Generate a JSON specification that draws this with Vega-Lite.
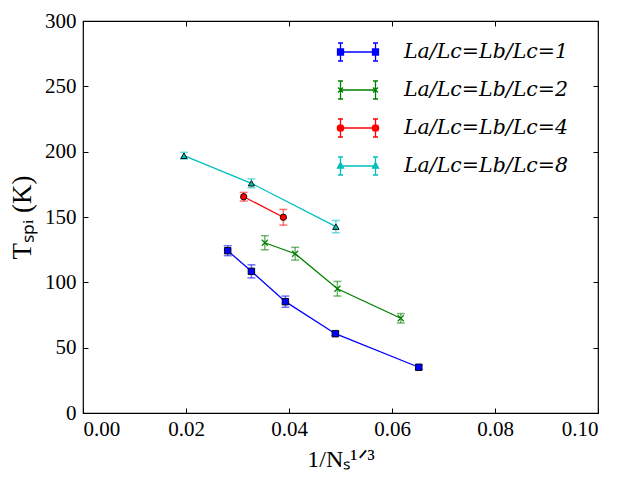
{
  "$schema": "https://vega.github.io/schema/vega-lite/v6.json",
  "width": 515,
  "height": 392,
  "autosize": {"type": "none"},
  "padding": {"left": 83, "top": 21, "right": 25, "bottom": 80},
  "background": "white",
  "config": {
    "view": {"stroke": "black", "strokeWidth": 1.2},
    "axis": {
      "grid": false,
      "domain": false,
      "tickColor": "black",
      "tickSize": -5,
      "tickWidth": 1,
      "labelFont": "Liberation Serif",
      "labelFontSize": 21,
      "labelColor": "black",
      "titleFont": "Liberation Serif",
      "titleFontSize": 24,
      "titleFontWeight": "normal",
      "titleColor": "black"
    }
  },
  "data": {
    "values": [
      {"series": "1", "x": 0.0281, "y": 124.2, "lo": 120.4, "hi": 128.0},
      {"series": "1", "x": 0.0327, "y": 108.4, "lo": 103.4, "hi": 113.4},
      {"series": "1", "x": 0.0393, "y": 85.2, "lo": 80.9, "hi": 89.5},
      {"series": "1", "x": 0.0490, "y": 60.7, "lo": 59.2, "hi": 62.2},
      {"series": "1", "x": 0.0652, "y": 35.0, "lo": 33.5, "hi": 36.5},
      {"series": "2", "x": 0.0353, "y": 130.3, "lo": 124.9, "hi": 135.7},
      {"series": "2", "x": 0.0412, "y": 121.9, "lo": 117.0, "hi": 126.8},
      {"series": "2", "x": 0.0494, "y": 95.1, "lo": 89.5, "hi": 100.7},
      {"series": "2", "x": 0.0617, "y": 72.5, "lo": 68.9, "hi": 76.1},
      {"series": "4", "x": 0.0312, "y": 165.5, "lo": 162.2, "hi": 168.8},
      {"series": "4", "x": 0.0389, "y": 149.8, "lo": 143.8, "hi": 155.8},
      {"series": "8", "x": 0.0196, "y": 196.9, "lo": 194.3, "hi": 199.5},
      {"series": "8", "x": 0.0327, "y": 175.8, "lo": 172.4, "hi": 179.2},
      {"series": "8", "x": 0.0491, "y": 142.6, "lo": 137.9, "hi": 147.3}
    ]
  },
  "resolve": {"axis": {"x": "independent", "y": "independent"}},
  "layer": [
    {
      "mark": {"type": "line", "strokeWidth": 1.3},
      "encoding": {
        "x": {"field": "x", "type": "quantitative", "scale": {"domain": [0, 0.1], "nice": false},
          "axis": {"orient": "bottom", "values": [0, 0.02, 0.04, 0.06, 0.08, 0.1], "format": ".2f", "labelPadding": 10, "title": "1/Nₛ¹ᐟ³", "titlePadding": 8}},
        "y": {"field": "y", "type": "quantitative", "scale": {"domain": [0, 300], "nice": false},
          "axis": {"orient": "left", "values": [0, 50, 100, 150, 200, 250, 300], "labelPadding": 12, "title": "Tₛₚᵢ (K)", "titlePadding": 8, "titleFontSize": 27}},
        "color": {"field": "series", "type": "nominal",
          "scale": {"domain": ["1", "2", "4", "8"], "range": ["#0000ff", "#008000", "#ff0000", "#00bfbf"]},
          "legend": {
            "orient": "none", "legendX": 264, "legendY": 20, "padding": 0,
            "title": null, "symbolSize": 400, "rowPadding": 14, "labelOffset": 35, "labelLimit": 300,
            "labelFont": "DejaVu Serif", "labelFontStyle": "italic", "labelFontSize": 20.5, "labelColor": "black",
            "labelExpr": "'La/Lc=Lb/Lc=' + datum.label",
            "encode": {
              "symbols": {
                "update": {
                  "shape": {"signal": "datum.value == '1' ? 'M-2,-0.9H-1.5M-1.75,-0.9V0.9M-2,0.9H-1.5M1.5,-0.9H2M1.75,-0.9V0.9M1.5,0.9H2M-1.75,0H1.75M-2.05,-0.3H-1.45V0.3H-2.05ZM1.45,-0.3H2.05V0.3H1.45Z' : datum.value == '2' ? 'M-2,-0.9H-1.5M-1.75,-0.9V0.9M-2,0.9H-1.5M1.5,-0.9H2M1.75,-0.9V0.9M1.5,0.9H2M-1.75,0H1.75M-2,-0.25L-1.5,0.25M-2,0.25L-1.5,-0.25M1.5,-0.25L2,0.25M1.5,0.25L2,-0.25' : datum.value == '4' ? 'M-2,-0.9H-1.5M-1.75,-0.9V0.9M-2,0.9H-1.5M1.5,-0.9H2M1.75,-0.9V0.9M1.5,0.9H2M-1.75,0H1.75M-2.07,0A0.32,0.32 0 1,0 -1.43,0A0.32,0.32 0 1,0 -2.07,0ZM1.43,0A0.32,0.32 0 1,0 2.07,0A0.32,0.32 0 1,0 1.43,0Z' : 'M-2,-0.9H-1.5M-1.75,-0.9V0.9M-2,0.9H-1.5M1.5,-0.9H2M1.75,-0.9V0.9M1.5,0.9H2M-1.75,0H1.75M-1.75,-0.35L-1.45,0.22L-2.05,0.22ZM1.75,-0.35L2.05,0.22L1.45,0.22Z'"},
                  "fill": {"scale": "color", "field": "value"},
                  "stroke": {"scale": "color", "field": "value"},
                  "strokeWidth": {"value": 1.3},
                  "opacity": {"value": 1},
                  "size": {"value": 400}
                }
              }
            }
          }}
      }
    },
    {
      "mark": {"type": "rule", "strokeWidth": 1.5, "opacity": 0.55},
      "encoding": {
        "x": {"field": "x", "type": "quantitative",
          "axis": {"orient": "top", "values": [0, 0.02, 0.04, 0.06, 0.08, 0.1], "labels": false, "title": null}},
        "y": {"field": "lo", "type": "quantitative",
          "axis": {"orient": "right", "values": [0, 50, 100, 150, 200, 250, 300], "labels": false, "title": null}},
        "y2": {"field": "hi"},
        "color": {"field": "series", "type": "nominal"}
      }
    },
    {
      "mark": {"type": "tick", "orient": "horizontal", "size": 8, "thickness": 1.5, "opacity": 0.55},
      "encoding": {
        "x": {"field": "x", "type": "quantitative", "axis": null},
        "y": {"field": "lo", "type": "quantitative", "axis": null},
        "color": {"field": "series", "type": "nominal"}
      }
    },
    {
      "mark": {"type": "tick", "orient": "horizontal", "size": 8, "thickness": 1.5, "opacity": 0.55},
      "encoding": {
        "x": {"field": "x", "type": "quantitative", "axis": null},
        "y": {"field": "hi", "type": "quantitative", "axis": null},
        "color": {"field": "series", "type": "nominal"}
      }
    },
    {
      "transform": [{"filter": "datum.series == '1'"}],
      "mark": {"type": "point", "shape": "square", "filled": true, "size": 42, "opacity": 1, "stroke": "black", "strokeWidth": 0.9},
      "encoding": {
        "x": {"field": "x", "type": "quantitative", "axis": null},
        "y": {"field": "y", "type": "quantitative", "axis": null},
        "color": {"field": "series", "type": "nominal"}
      }
    },
    {
      "transform": [{"filter": "datum.series == '2'"}],
      "mark": {"type": "point", "shape": "M-1,-1L1,1M-1,1L1,-1", "filled": true, "size": 36, "opacity": 1, "stroke": "#008000", "strokeWidth": 1.2},
      "encoding": {
        "x": {"field": "x", "type": "quantitative", "axis": null},
        "y": {"field": "y", "type": "quantitative", "axis": null},
        "color": {"field": "series", "type": "nominal"}
      }
    },
    {
      "transform": [{"filter": "datum.series == '4'"}],
      "mark": {"type": "point", "shape": "circle", "filled": true, "size": 40, "opacity": 1, "stroke": "black", "strokeWidth": 0.9},
      "encoding": {
        "x": {"field": "x", "type": "quantitative", "axis": null},
        "y": {"field": "y", "type": "quantitative", "axis": null},
        "color": {"field": "series", "type": "nominal"}
      }
    },
    {
      "transform": [{"filter": "datum.series == '8'"}],
      "mark": {"type": "point", "shape": "triangle-up", "filled": true, "size": 40, "opacity": 1, "stroke": "black", "strokeWidth": 0.9},
      "encoding": {
        "x": {"field": "x", "type": "quantitative", "axis": null},
        "y": {"field": "y", "type": "quantitative", "axis": null},
        "color": {"field": "series", "type": "nominal"}
      }
    }
  ]
}
